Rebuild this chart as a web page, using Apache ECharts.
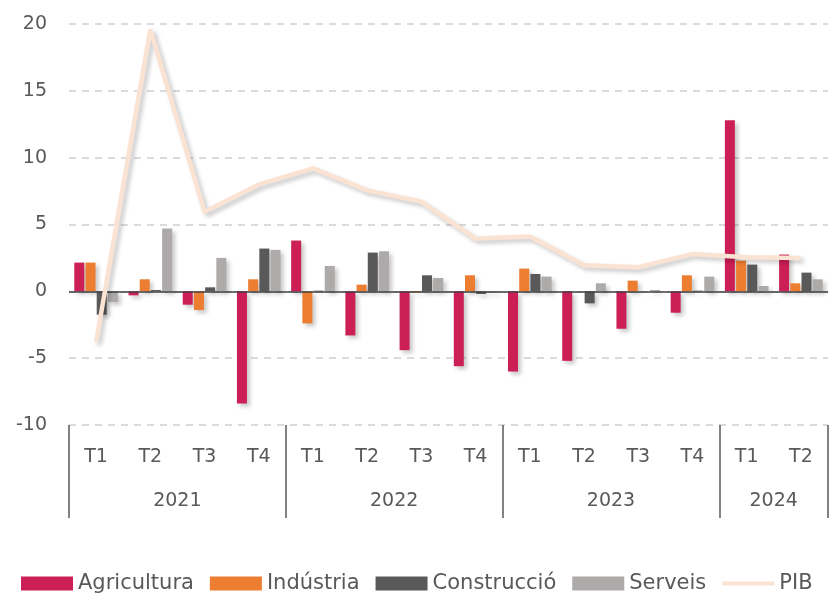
<!DOCTYPE html>
<html><head><meta charset="utf-8">
<script src="https://cdn.jsdelivr.net/npm/echarts@6/dist/echarts.min.js"></script>
<style>html,body{margin:0;padding:0;background:#fff}#c{width:832px;height:596px}</style>
</head><body><div id="c"></div>
<script>
const quarters = ['T1','T2','T3','T4','T1','T2','T3','T4','T1','T2','T3','T4','T1','T2'];
const yearLabels = ['','2021','','','','2022','','','','2023','','','2024',''];
const yearStarts = [0,4,8,12];
const agricultura = [2.15,-0.3,-1.0,-8.4,3.8,-3.3,-4.4,-5.6,-6.0,-5.2,-2.8,-1.6,12.8,2.75];
const industria   = [2.15,0.9,-1.4,0.9,-2.4,0.5,-0.1,1.2,1.7,0.0,0.8,1.2,2.3,0.6];
const construccio = [-1.75,0.1,0.3,3.2,0.05,2.9,1.2,-0.2,1.3,-0.9,0.0,0.05,2.0,1.4];
const serveis     = [-0.8,4.7,2.5,3.1,1.9,3.0,1.0,-0.1,1.1,0.6,0.1,1.1,0.4,0.9];
const pib         = [-3.8,19.6,5.95,8.0,9.2,7.55,6.7,3.95,4.1,1.95,1.8,2.8,2.55,2.5];

const FONT = 'DejaVu Sans';
const GREY = '#595959';
const shadow = {shadowColor:'rgba(0,0,0,0.22)', shadowBlur:4, shadowOffsetX:3, shadowOffsetY:3};
function bar(name, data, color, extra) {
  return Object.assign({
    name, type:'bar', data, barWidth:10, barGap:'12%',
    itemStyle: Object.assign({color}, shadow),
    emphasis:{disabled:true}
  }, extra || {});
}
const chart = echarts.init(document.getElementById('c'), null, {renderer:'canvas'});
chart.setOption({
  animation:false,
  textStyle:{fontFamily:FONT},
  grid:{left:69, right:4, top:24, bottom:171, containLabel:false},
  legend:{
    left:21, top:573, itemWidth:52, itemHeight:14, itemGap:16, padding:0,
    icon:'rect',
    textStyle:{fontSize:21, color:GREY, fontFamily:FONT},
    data:['Agricultura','Indústria','Construcció','Serveis',
      {name:'PIB', icon:'path://M0,0 H52 V4 H0 Z'}]
  },
  xAxis:[
    {type:'category', data:quarters, position:'bottom',
     axisLine:{show:false}, axisTick:{show:false},
     axisLabel:{interval:0, margin:23, fontSize:19, color:GREY, fontFamily:FONT}},
    {type:'category', data:yearLabels, position:'bottom', offset:0,
     axisLine:{show:false},
     axisTick:{show:true, length:93, interval:(i)=>yearStarts.includes(i),
               lineStyle:{color:GREY, width:1.5}},
     axisLabel:{interval:0, margin:67, fontSize:19, color:GREY, fontFamily:FONT,
                align:'center', padding:[0,0,0,54]}}
  ],
  yAxis:{type:'value', min:-10, max:20, interval:5,
    axisLine:{show:false}, axisTick:{show:false},
    axisLabel:{margin:22, fontSize:19, color:GREY, fontFamily:FONT},
    splitLine:{lineStyle:{color:'#d0d0d0', width:1.5, type:[7,6]}}},
  series:[
    bar('Agricultura', agricultura, '#cc1f55', {
      markLine:{silent:true, symbol:'none', label:{show:false},
        lineStyle:{color:'#404040', width:1.5, type:'solid'},
        data:[{yAxis:0}]}
    }),
    bar('Indústria', industria, '#ed7d31'),
    bar('Construcció', construccio, '#595959'),
    bar('Serveis', serveis, '#aeaaaa'),
    {name:'PIB', type:'line', data:pib, symbol:'none', z:5,
     lineStyle:Object.assign({color:'#fbe3d3', width:4.5}, shadow),
     itemStyle:{color:'#fbe3d3'},
     emphasis:{disabled:true}}
  ]
});
</script></body></html>
